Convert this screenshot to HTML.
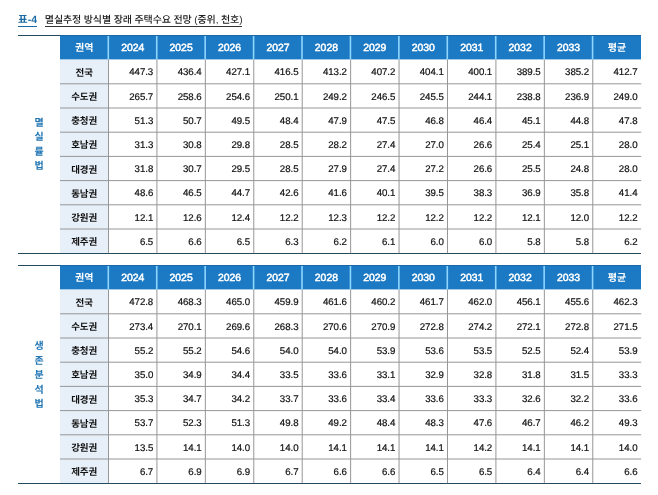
<!DOCTYPE html>
<html lang="ko"><head><meta charset="utf-8"><title>표-4</title><style>
html,body{margin:0;padding:0;background:#fff;}
body{width:658px;height:495px;position:relative;overflow:hidden;
 font-family:"Liberation Sans","Noto Sans CJK KR","NanumGothic",sans-serif;color:#222;text-rendering:geometricPrecision;}
.a{position:absolute;}
.title{left:18px;top:12px;height:16px;line-height:16px;font-size:10px;white-space:nowrap;}
.title .no{color:#1b6aa5;font-weight:700;font-size:10.5px;letter-spacing:0.1px;border-bottom:1px solid #1b6aa5;padding-bottom:0px;}
.title .tx{color:#222;border-bottom:1px solid #333;margin-left:7.5px;font-weight:500;letter-spacing:-0.12px;}
.rule{height:1px;background:#244a60;}
.hd{background:#1c79c3;color:#fff;font-weight:700;font-size:9.5px;text-align:center;}
.hn{font-size:10.4px;font-weight:400;-webkit-text-stroke:0.5px #fff;letter-spacing:0;}
.hk{font-size:10px;}
.rg{background:#e7eff8;}
.c{font-size:9.7px;letter-spacing:-0.05px;-webkit-text-stroke:0.2px #111;text-align:right;white-space:nowrap;color:#111;}
.r{font-size:9.5px;text-align:center;white-space:nowrap;color:#111;font-weight:700;}
.side{color:#2477b5;font-size:10px;font-weight:700;text-align:center;width:14px;line-height:14.55px;}
</style></head><body>
<div class="a title"><span class="no">표-4</span><span class="tx">멸실추정 방식별 장래 주택수요 전망 (중위, 천호)</span></div>
<div class="a rule" style="left:18px;top:35px;width:623.2px"></div>
<div class="a hd" style="left:60px;top:35px;width:581.2px;height:24px;border-top:1px solid #1a68a8;box-sizing:border-box"></div>
<div class="a hd" style="left:60px;top:59px;width:581.2px;height:1px;opacity:0.4"></div>
<div class="a hd hk" style="left:60px;top:37px;width:48.5px;height:24px;line-height:24px;background:none">권역</div>
<div class="a hd hn" style="left:108.5px;top:37px;width:48.4273px;height:24px;line-height:24px;background:none">2024</div>
<div class="a hd hn" style="left:156.927px;top:37px;width:48.4273px;height:24px;line-height:24px;background:none">2025</div>
<div class="a hd hn" style="left:205.355px;top:37px;width:48.4273px;height:24px;line-height:24px;background:none">2026</div>
<div class="a hd hn" style="left:253.782px;top:37px;width:48.4273px;height:24px;line-height:24px;background:none">2027</div>
<div class="a hd hn" style="left:302.209px;top:37px;width:48.4273px;height:24px;line-height:24px;background:none">2028</div>
<div class="a hd hn" style="left:350.636px;top:37px;width:48.4273px;height:24px;line-height:24px;background:none">2029</div>
<div class="a hd hn" style="left:399.064px;top:37px;width:48.4273px;height:24px;line-height:24px;background:none">2030</div>
<div class="a hd hn" style="left:447.491px;top:37px;width:48.4273px;height:24px;line-height:24px;background:none">2031</div>
<div class="a hd hn" style="left:495.918px;top:37px;width:48.4273px;height:24px;line-height:24px;background:none">2032</div>
<div class="a hd hn" style="left:544.345px;top:37px;width:48.4273px;height:24px;line-height:24px;background:none">2033</div>
<div class="a hd hk" style="left:592.773px;top:37px;width:48.4273px;height:24px;line-height:24px;background:none">평균</div>
<div class="a rg" style="left:60px;top:59.6px;width:48.5px;height:193.6px"></div>
<div class="a r" style="left:60px;top:62px;width:48.5px;height:24px;line-height:24px">전국</div>
<div class="a c" style="left:108.5px;top:61px;width:44.7273px;height:24px;line-height:24px">447.3</div>
<div class="a c" style="left:156.927px;top:61px;width:44.7273px;height:24px;line-height:24px">436.4</div>
<div class="a c" style="left:205.355px;top:61px;width:44.7273px;height:24px;line-height:24px">427.1</div>
<div class="a c" style="left:253.782px;top:61px;width:44.7273px;height:24px;line-height:24px">416.5</div>
<div class="a c" style="left:302.209px;top:61px;width:44.7273px;height:24px;line-height:24px">413.2</div>
<div class="a c" style="left:350.636px;top:61px;width:44.7273px;height:24px;line-height:24px">407.2</div>
<div class="a c" style="left:399.064px;top:61px;width:44.7273px;height:24px;line-height:24px">404.1</div>
<div class="a c" style="left:447.491px;top:61px;width:44.7273px;height:24px;line-height:24px">400.1</div>
<div class="a c" style="left:495.918px;top:61px;width:44.7273px;height:24px;line-height:24px">389.5</div>
<div class="a c" style="left:544.345px;top:61px;width:44.7273px;height:24px;line-height:24px">385.2</div>
<div class="a c" style="left:592.773px;top:61px;width:44.7273px;height:24px;line-height:24px">412.7</div>
<div class="a r" style="left:60px;top:86px;width:48.5px;height:24px;line-height:24px">수도권</div>
<div class="a c" style="left:108.5px;top:86px;width:44.7273px;height:24px;line-height:24px">265.7</div>
<div class="a c" style="left:156.927px;top:86px;width:44.7273px;height:24px;line-height:24px">258.6</div>
<div class="a c" style="left:205.355px;top:86px;width:44.7273px;height:24px;line-height:24px">254.6</div>
<div class="a c" style="left:253.782px;top:86px;width:44.7273px;height:24px;line-height:24px">250.1</div>
<div class="a c" style="left:302.209px;top:86px;width:44.7273px;height:24px;line-height:24px">249.2</div>
<div class="a c" style="left:350.636px;top:86px;width:44.7273px;height:24px;line-height:24px">246.5</div>
<div class="a c" style="left:399.064px;top:86px;width:44.7273px;height:24px;line-height:24px">245.5</div>
<div class="a c" style="left:447.491px;top:86px;width:44.7273px;height:24px;line-height:24px">244.1</div>
<div class="a c" style="left:495.918px;top:86px;width:44.7273px;height:24px;line-height:24px">238.8</div>
<div class="a c" style="left:544.345px;top:86px;width:44.7273px;height:24px;line-height:24px">236.9</div>
<div class="a c" style="left:592.773px;top:86px;width:44.7273px;height:24px;line-height:24px">249.0</div>
<div class="a r" style="left:60px;top:110px;width:48.5px;height:24px;line-height:24px">충청권</div>
<div class="a c" style="left:108.5px;top:110px;width:44.7273px;height:24px;line-height:24px">51.3</div>
<div class="a c" style="left:156.927px;top:110px;width:44.7273px;height:24px;line-height:24px">50.7</div>
<div class="a c" style="left:205.355px;top:110px;width:44.7273px;height:24px;line-height:24px">49.5</div>
<div class="a c" style="left:253.782px;top:110px;width:44.7273px;height:24px;line-height:24px">48.4</div>
<div class="a c" style="left:302.209px;top:110px;width:44.7273px;height:24px;line-height:24px">47.9</div>
<div class="a c" style="left:350.636px;top:110px;width:44.7273px;height:24px;line-height:24px">47.5</div>
<div class="a c" style="left:399.064px;top:110px;width:44.7273px;height:24px;line-height:24px">46.8</div>
<div class="a c" style="left:447.491px;top:110px;width:44.7273px;height:24px;line-height:24px">46.4</div>
<div class="a c" style="left:495.918px;top:110px;width:44.7273px;height:24px;line-height:24px">45.1</div>
<div class="a c" style="left:544.345px;top:110px;width:44.7273px;height:24px;line-height:24px">44.8</div>
<div class="a c" style="left:592.773px;top:110px;width:44.7273px;height:24px;line-height:24px">47.8</div>
<div class="a r" style="left:60px;top:134px;width:48.5px;height:24px;line-height:24px">호남권</div>
<div class="a c" style="left:108.5px;top:134px;width:44.7273px;height:24px;line-height:24px">31.3</div>
<div class="a c" style="left:156.927px;top:134px;width:44.7273px;height:24px;line-height:24px">30.8</div>
<div class="a c" style="left:205.355px;top:134px;width:44.7273px;height:24px;line-height:24px">29.8</div>
<div class="a c" style="left:253.782px;top:134px;width:44.7273px;height:24px;line-height:24px">28.5</div>
<div class="a c" style="left:302.209px;top:134px;width:44.7273px;height:24px;line-height:24px">28.2</div>
<div class="a c" style="left:350.636px;top:134px;width:44.7273px;height:24px;line-height:24px">27.4</div>
<div class="a c" style="left:399.064px;top:134px;width:44.7273px;height:24px;line-height:24px">27.0</div>
<div class="a c" style="left:447.491px;top:134px;width:44.7273px;height:24px;line-height:24px">26.6</div>
<div class="a c" style="left:495.918px;top:134px;width:44.7273px;height:24px;line-height:24px">25.4</div>
<div class="a c" style="left:544.345px;top:134px;width:44.7273px;height:24px;line-height:24px">25.1</div>
<div class="a c" style="left:592.773px;top:134px;width:44.7273px;height:24px;line-height:24px">28.0</div>
<div class="a r" style="left:60px;top:159px;width:48.5px;height:24px;line-height:24px">대경권</div>
<div class="a c" style="left:108.5px;top:158px;width:44.7273px;height:24px;line-height:24px">31.8</div>
<div class="a c" style="left:156.927px;top:158px;width:44.7273px;height:24px;line-height:24px">30.7</div>
<div class="a c" style="left:205.355px;top:158px;width:44.7273px;height:24px;line-height:24px">29.5</div>
<div class="a c" style="left:253.782px;top:158px;width:44.7273px;height:24px;line-height:24px">28.5</div>
<div class="a c" style="left:302.209px;top:158px;width:44.7273px;height:24px;line-height:24px">27.9</div>
<div class="a c" style="left:350.636px;top:158px;width:44.7273px;height:24px;line-height:24px">27.4</div>
<div class="a c" style="left:399.064px;top:158px;width:44.7273px;height:24px;line-height:24px">27.2</div>
<div class="a c" style="left:447.491px;top:158px;width:44.7273px;height:24px;line-height:24px">26.6</div>
<div class="a c" style="left:495.918px;top:158px;width:44.7273px;height:24px;line-height:24px">25.5</div>
<div class="a c" style="left:544.345px;top:158px;width:44.7273px;height:24px;line-height:24px">24.8</div>
<div class="a c" style="left:592.773px;top:158px;width:44.7273px;height:24px;line-height:24px">28.0</div>
<div class="a r" style="left:60px;top:183px;width:48.5px;height:24px;line-height:24px">동남권</div>
<div class="a c" style="left:108.5px;top:182px;width:44.7273px;height:24px;line-height:24px">48.6</div>
<div class="a c" style="left:156.927px;top:182px;width:44.7273px;height:24px;line-height:24px">46.5</div>
<div class="a c" style="left:205.355px;top:182px;width:44.7273px;height:24px;line-height:24px">44.7</div>
<div class="a c" style="left:253.782px;top:182px;width:44.7273px;height:24px;line-height:24px">42.6</div>
<div class="a c" style="left:302.209px;top:182px;width:44.7273px;height:24px;line-height:24px">41.6</div>
<div class="a c" style="left:350.636px;top:182px;width:44.7273px;height:24px;line-height:24px">40.1</div>
<div class="a c" style="left:399.064px;top:182px;width:44.7273px;height:24px;line-height:24px">39.5</div>
<div class="a c" style="left:447.491px;top:182px;width:44.7273px;height:24px;line-height:24px">38.3</div>
<div class="a c" style="left:495.918px;top:182px;width:44.7273px;height:24px;line-height:24px">36.9</div>
<div class="a c" style="left:544.345px;top:182px;width:44.7273px;height:24px;line-height:24px">35.8</div>
<div class="a c" style="left:592.773px;top:182px;width:44.7273px;height:24px;line-height:24px">41.4</div>
<div class="a r" style="left:60px;top:207px;width:48.5px;height:24px;line-height:24px">강원권</div>
<div class="a c" style="left:108.5px;top:207px;width:44.7273px;height:24px;line-height:24px">12.1</div>
<div class="a c" style="left:156.927px;top:207px;width:44.7273px;height:24px;line-height:24px">12.6</div>
<div class="a c" style="left:205.355px;top:207px;width:44.7273px;height:24px;line-height:24px">12.4</div>
<div class="a c" style="left:253.782px;top:207px;width:44.7273px;height:24px;line-height:24px">12.2</div>
<div class="a c" style="left:302.209px;top:207px;width:44.7273px;height:24px;line-height:24px">12.3</div>
<div class="a c" style="left:350.636px;top:207px;width:44.7273px;height:24px;line-height:24px">12.2</div>
<div class="a c" style="left:399.064px;top:207px;width:44.7273px;height:24px;line-height:24px">12.2</div>
<div class="a c" style="left:447.491px;top:207px;width:44.7273px;height:24px;line-height:24px">12.2</div>
<div class="a c" style="left:495.918px;top:207px;width:44.7273px;height:24px;line-height:24px">12.1</div>
<div class="a c" style="left:544.345px;top:207px;width:44.7273px;height:24px;line-height:24px">12.0</div>
<div class="a c" style="left:592.773px;top:207px;width:44.7273px;height:24px;line-height:24px">12.2</div>
<div class="a r" style="left:60px;top:231px;width:48.5px;height:24px;line-height:24px">제주권</div>
<div class="a c" style="left:108.5px;top:231px;width:44.7273px;height:24px;line-height:24px">6.5</div>
<div class="a c" style="left:156.927px;top:231px;width:44.7273px;height:24px;line-height:24px">6.6</div>
<div class="a c" style="left:205.355px;top:231px;width:44.7273px;height:24px;line-height:24px">6.5</div>
<div class="a c" style="left:253.782px;top:231px;width:44.7273px;height:24px;line-height:24px">6.3</div>
<div class="a c" style="left:302.209px;top:231px;width:44.7273px;height:24px;line-height:24px">6.2</div>
<div class="a c" style="left:350.636px;top:231px;width:44.7273px;height:24px;line-height:24px">6.1</div>
<div class="a c" style="left:399.064px;top:231px;width:44.7273px;height:24px;line-height:24px">6.0</div>
<div class="a c" style="left:447.491px;top:231px;width:44.7273px;height:24px;line-height:24px">6.0</div>
<div class="a c" style="left:495.918px;top:231px;width:44.7273px;height:24px;line-height:24px">5.8</div>
<div class="a c" style="left:544.345px;top:231px;width:44.7273px;height:24px;line-height:24px">5.8</div>
<div class="a c" style="left:592.773px;top:231px;width:44.7273px;height:24px;line-height:24px">6.2</div>
<div class="a rule" style="left:18px;top:252.7px;width:623.2px"></div>
<div class="a side" style="left:32px;top:116.6px">멸<br>실<br>률<br>법</div>
<div class="a rule" style="left:18px;top:265px;width:623.2px"></div>
<div class="a hd" style="left:60px;top:265px;width:581.2px;height:24px;border-top:1px solid #1a68a8;box-sizing:border-box"></div>
<div class="a hd" style="left:60px;top:289px;width:581.2px;height:1px;opacity:0.4"></div>
<div class="a hd hk" style="left:60px;top:267px;width:48.5px;height:24px;line-height:24px;background:none">권역</div>
<div class="a hd hn" style="left:108.5px;top:267px;width:48.4273px;height:24px;line-height:24px;background:none">2024</div>
<div class="a hd hn" style="left:156.927px;top:267px;width:48.4273px;height:24px;line-height:24px;background:none">2025</div>
<div class="a hd hn" style="left:205.355px;top:267px;width:48.4273px;height:24px;line-height:24px;background:none">2026</div>
<div class="a hd hn" style="left:253.782px;top:267px;width:48.4273px;height:24px;line-height:24px;background:none">2027</div>
<div class="a hd hn" style="left:302.209px;top:267px;width:48.4273px;height:24px;line-height:24px;background:none">2028</div>
<div class="a hd hn" style="left:350.636px;top:267px;width:48.4273px;height:24px;line-height:24px;background:none">2029</div>
<div class="a hd hn" style="left:399.064px;top:267px;width:48.4273px;height:24px;line-height:24px;background:none">2030</div>
<div class="a hd hn" style="left:447.491px;top:267px;width:48.4273px;height:24px;line-height:24px;background:none">2031</div>
<div class="a hd hn" style="left:495.918px;top:267px;width:48.4273px;height:24px;line-height:24px;background:none">2032</div>
<div class="a hd hn" style="left:544.345px;top:267px;width:48.4273px;height:24px;line-height:24px;background:none">2033</div>
<div class="a hd hk" style="left:592.773px;top:267px;width:48.4273px;height:24px;line-height:24px;background:none">평균</div>
<div class="a rg" style="left:60px;top:289.6px;width:48.5px;height:193.6px"></div>
<div class="a r" style="left:60px;top:292px;width:48.5px;height:24px;line-height:24px">전국</div>
<div class="a c" style="left:108.5px;top:291px;width:44.7273px;height:24px;line-height:24px">472.8</div>
<div class="a c" style="left:156.927px;top:291px;width:44.7273px;height:24px;line-height:24px">468.3</div>
<div class="a c" style="left:205.355px;top:291px;width:44.7273px;height:24px;line-height:24px">465.0</div>
<div class="a c" style="left:253.782px;top:291px;width:44.7273px;height:24px;line-height:24px">459.9</div>
<div class="a c" style="left:302.209px;top:291px;width:44.7273px;height:24px;line-height:24px">461.6</div>
<div class="a c" style="left:350.636px;top:291px;width:44.7273px;height:24px;line-height:24px">460.2</div>
<div class="a c" style="left:399.064px;top:291px;width:44.7273px;height:24px;line-height:24px">461.7</div>
<div class="a c" style="left:447.491px;top:291px;width:44.7273px;height:24px;line-height:24px">462.0</div>
<div class="a c" style="left:495.918px;top:291px;width:44.7273px;height:24px;line-height:24px">456.1</div>
<div class="a c" style="left:544.345px;top:291px;width:44.7273px;height:24px;line-height:24px">455.6</div>
<div class="a c" style="left:592.773px;top:291px;width:44.7273px;height:24px;line-height:24px">462.3</div>
<div class="a r" style="left:60px;top:316px;width:48.5px;height:24px;line-height:24px">수도권</div>
<div class="a c" style="left:108.5px;top:316px;width:44.7273px;height:24px;line-height:24px">273.4</div>
<div class="a c" style="left:156.927px;top:316px;width:44.7273px;height:24px;line-height:24px">270.1</div>
<div class="a c" style="left:205.355px;top:316px;width:44.7273px;height:24px;line-height:24px">269.6</div>
<div class="a c" style="left:253.782px;top:316px;width:44.7273px;height:24px;line-height:24px">268.3</div>
<div class="a c" style="left:302.209px;top:316px;width:44.7273px;height:24px;line-height:24px">270.6</div>
<div class="a c" style="left:350.636px;top:316px;width:44.7273px;height:24px;line-height:24px">270.9</div>
<div class="a c" style="left:399.064px;top:316px;width:44.7273px;height:24px;line-height:24px">272.8</div>
<div class="a c" style="left:447.491px;top:316px;width:44.7273px;height:24px;line-height:24px">274.2</div>
<div class="a c" style="left:495.918px;top:316px;width:44.7273px;height:24px;line-height:24px">272.1</div>
<div class="a c" style="left:544.345px;top:316px;width:44.7273px;height:24px;line-height:24px">272.8</div>
<div class="a c" style="left:592.773px;top:316px;width:44.7273px;height:24px;line-height:24px">271.5</div>
<div class="a r" style="left:60px;top:340px;width:48.5px;height:24px;line-height:24px">충청권</div>
<div class="a c" style="left:108.5px;top:340px;width:44.7273px;height:24px;line-height:24px">55.2</div>
<div class="a c" style="left:156.927px;top:340px;width:44.7273px;height:24px;line-height:24px">55.2</div>
<div class="a c" style="left:205.355px;top:340px;width:44.7273px;height:24px;line-height:24px">54.6</div>
<div class="a c" style="left:253.782px;top:340px;width:44.7273px;height:24px;line-height:24px">54.0</div>
<div class="a c" style="left:302.209px;top:340px;width:44.7273px;height:24px;line-height:24px">54.0</div>
<div class="a c" style="left:350.636px;top:340px;width:44.7273px;height:24px;line-height:24px">53.9</div>
<div class="a c" style="left:399.064px;top:340px;width:44.7273px;height:24px;line-height:24px">53.6</div>
<div class="a c" style="left:447.491px;top:340px;width:44.7273px;height:24px;line-height:24px">53.5</div>
<div class="a c" style="left:495.918px;top:340px;width:44.7273px;height:24px;line-height:24px">52.5</div>
<div class="a c" style="left:544.345px;top:340px;width:44.7273px;height:24px;line-height:24px">52.4</div>
<div class="a c" style="left:592.773px;top:340px;width:44.7273px;height:24px;line-height:24px">53.9</div>
<div class="a r" style="left:60px;top:364px;width:48.5px;height:24px;line-height:24px">호남권</div>
<div class="a c" style="left:108.5px;top:364px;width:44.7273px;height:24px;line-height:24px">35.0</div>
<div class="a c" style="left:156.927px;top:364px;width:44.7273px;height:24px;line-height:24px">34.9</div>
<div class="a c" style="left:205.355px;top:364px;width:44.7273px;height:24px;line-height:24px">34.4</div>
<div class="a c" style="left:253.782px;top:364px;width:44.7273px;height:24px;line-height:24px">33.5</div>
<div class="a c" style="left:302.209px;top:364px;width:44.7273px;height:24px;line-height:24px">33.6</div>
<div class="a c" style="left:350.636px;top:364px;width:44.7273px;height:24px;line-height:24px">33.1</div>
<div class="a c" style="left:399.064px;top:364px;width:44.7273px;height:24px;line-height:24px">32.9</div>
<div class="a c" style="left:447.491px;top:364px;width:44.7273px;height:24px;line-height:24px">32.8</div>
<div class="a c" style="left:495.918px;top:364px;width:44.7273px;height:24px;line-height:24px">31.8</div>
<div class="a c" style="left:544.345px;top:364px;width:44.7273px;height:24px;line-height:24px">31.5</div>
<div class="a c" style="left:592.773px;top:364px;width:44.7273px;height:24px;line-height:24px">33.3</div>
<div class="a r" style="left:60px;top:389px;width:48.5px;height:24px;line-height:24px">대경권</div>
<div class="a c" style="left:108.5px;top:388px;width:44.7273px;height:24px;line-height:24px">35.3</div>
<div class="a c" style="left:156.927px;top:388px;width:44.7273px;height:24px;line-height:24px">34.7</div>
<div class="a c" style="left:205.355px;top:388px;width:44.7273px;height:24px;line-height:24px">34.2</div>
<div class="a c" style="left:253.782px;top:388px;width:44.7273px;height:24px;line-height:24px">33.7</div>
<div class="a c" style="left:302.209px;top:388px;width:44.7273px;height:24px;line-height:24px">33.6</div>
<div class="a c" style="left:350.636px;top:388px;width:44.7273px;height:24px;line-height:24px">33.4</div>
<div class="a c" style="left:399.064px;top:388px;width:44.7273px;height:24px;line-height:24px">33.6</div>
<div class="a c" style="left:447.491px;top:388px;width:44.7273px;height:24px;line-height:24px">33.3</div>
<div class="a c" style="left:495.918px;top:388px;width:44.7273px;height:24px;line-height:24px">32.6</div>
<div class="a c" style="left:544.345px;top:388px;width:44.7273px;height:24px;line-height:24px">32.2</div>
<div class="a c" style="left:592.773px;top:388px;width:44.7273px;height:24px;line-height:24px">33.6</div>
<div class="a r" style="left:60px;top:413px;width:48.5px;height:24px;line-height:24px">동남권</div>
<div class="a c" style="left:108.5px;top:412px;width:44.7273px;height:24px;line-height:24px">53.7</div>
<div class="a c" style="left:156.927px;top:412px;width:44.7273px;height:24px;line-height:24px">52.3</div>
<div class="a c" style="left:205.355px;top:412px;width:44.7273px;height:24px;line-height:24px">51.3</div>
<div class="a c" style="left:253.782px;top:412px;width:44.7273px;height:24px;line-height:24px">49.8</div>
<div class="a c" style="left:302.209px;top:412px;width:44.7273px;height:24px;line-height:24px">49.2</div>
<div class="a c" style="left:350.636px;top:412px;width:44.7273px;height:24px;line-height:24px">48.4</div>
<div class="a c" style="left:399.064px;top:412px;width:44.7273px;height:24px;line-height:24px">48.3</div>
<div class="a c" style="left:447.491px;top:412px;width:44.7273px;height:24px;line-height:24px">47.6</div>
<div class="a c" style="left:495.918px;top:412px;width:44.7273px;height:24px;line-height:24px">46.7</div>
<div class="a c" style="left:544.345px;top:412px;width:44.7273px;height:24px;line-height:24px">46.2</div>
<div class="a c" style="left:592.773px;top:412px;width:44.7273px;height:24px;line-height:24px">49.3</div>
<div class="a r" style="left:60px;top:437px;width:48.5px;height:24px;line-height:24px">강원권</div>
<div class="a c" style="left:108.5px;top:437px;width:44.7273px;height:24px;line-height:24px">13.5</div>
<div class="a c" style="left:156.927px;top:437px;width:44.7273px;height:24px;line-height:24px">14.1</div>
<div class="a c" style="left:205.355px;top:437px;width:44.7273px;height:24px;line-height:24px">14.0</div>
<div class="a c" style="left:253.782px;top:437px;width:44.7273px;height:24px;line-height:24px">14.0</div>
<div class="a c" style="left:302.209px;top:437px;width:44.7273px;height:24px;line-height:24px">14.1</div>
<div class="a c" style="left:350.636px;top:437px;width:44.7273px;height:24px;line-height:24px">14.1</div>
<div class="a c" style="left:399.064px;top:437px;width:44.7273px;height:24px;line-height:24px">14.1</div>
<div class="a c" style="left:447.491px;top:437px;width:44.7273px;height:24px;line-height:24px">14.2</div>
<div class="a c" style="left:495.918px;top:437px;width:44.7273px;height:24px;line-height:24px">14.1</div>
<div class="a c" style="left:544.345px;top:437px;width:44.7273px;height:24px;line-height:24px">14.1</div>
<div class="a c" style="left:592.773px;top:437px;width:44.7273px;height:24px;line-height:24px">14.0</div>
<div class="a r" style="left:60px;top:461px;width:48.5px;height:24px;line-height:24px">제주권</div>
<div class="a c" style="left:108.5px;top:461px;width:44.7273px;height:24px;line-height:24px">6.7</div>
<div class="a c" style="left:156.927px;top:461px;width:44.7273px;height:24px;line-height:24px">6.9</div>
<div class="a c" style="left:205.355px;top:461px;width:44.7273px;height:24px;line-height:24px">6.9</div>
<div class="a c" style="left:253.782px;top:461px;width:44.7273px;height:24px;line-height:24px">6.7</div>
<div class="a c" style="left:302.209px;top:461px;width:44.7273px;height:24px;line-height:24px">6.6</div>
<div class="a c" style="left:350.636px;top:461px;width:44.7273px;height:24px;line-height:24px">6.6</div>
<div class="a c" style="left:399.064px;top:461px;width:44.7273px;height:24px;line-height:24px">6.5</div>
<div class="a c" style="left:447.491px;top:461px;width:44.7273px;height:24px;line-height:24px">6.5</div>
<div class="a c" style="left:495.918px;top:461px;width:44.7273px;height:24px;line-height:24px">6.4</div>
<div class="a c" style="left:544.345px;top:461px;width:44.7273px;height:24px;line-height:24px">6.4</div>
<div class="a c" style="left:592.773px;top:461px;width:44.7273px;height:24px;line-height:24px">6.6</div>
<div class="a rule" style="left:18px;top:482.7px;width:623.2px"></div>
<div class="a side" style="left:32px;top:340px">생<br>존<br>분<br>석<br>법</div>
<svg class="a" style="left:0;top:0" width="658" height="495" viewBox="0 0 658 495" fill="none" stroke="#969696" stroke-width="1"><line x1="60" y1="83.80" x2="641.2" y2="83.80"/><line x1="60" y1="108.00" x2="641.2" y2="108.00"/><line x1="60" y1="132.20" x2="641.2" y2="132.20"/><line x1="60" y1="156.40" x2="641.2" y2="156.40"/><line x1="60" y1="180.60" x2="641.2" y2="180.60"/><line x1="60" y1="204.80" x2="641.2" y2="204.80"/><line x1="60" y1="229.00" x2="641.2" y2="229.00"/><line x1="108.50" y1="59.60" x2="108.50" y2="253.20"/><line x1="156.93" y1="59.60" x2="156.93" y2="253.20"/><line x1="205.35" y1="59.60" x2="205.35" y2="253.20"/><line x1="253.78" y1="59.60" x2="253.78" y2="253.20"/><line x1="302.21" y1="59.60" x2="302.21" y2="253.20"/><line x1="350.64" y1="59.60" x2="350.64" y2="253.20"/><line x1="399.06" y1="59.60" x2="399.06" y2="253.20"/><line x1="447.49" y1="59.60" x2="447.49" y2="253.20"/><line x1="495.92" y1="59.60" x2="495.92" y2="253.20"/><line x1="544.35" y1="59.60" x2="544.35" y2="253.20"/><line x1="592.77" y1="59.60" x2="592.77" y2="253.20"/><line x1="60" y1="313.80" x2="641.2" y2="313.80"/><line x1="60" y1="338.00" x2="641.2" y2="338.00"/><line x1="60" y1="362.20" x2="641.2" y2="362.20"/><line x1="60" y1="386.40" x2="641.2" y2="386.40"/><line x1="60" y1="410.60" x2="641.2" y2="410.60"/><line x1="60" y1="434.80" x2="641.2" y2="434.80"/><line x1="60" y1="459.00" x2="641.2" y2="459.00"/><line x1="108.50" y1="289.60" x2="108.50" y2="483.20"/><line x1="156.93" y1="289.60" x2="156.93" y2="483.20"/><line x1="205.35" y1="289.60" x2="205.35" y2="483.20"/><line x1="253.78" y1="289.60" x2="253.78" y2="483.20"/><line x1="302.21" y1="289.60" x2="302.21" y2="483.20"/><line x1="350.64" y1="289.60" x2="350.64" y2="483.20"/><line x1="399.06" y1="289.60" x2="399.06" y2="483.20"/><line x1="447.49" y1="289.60" x2="447.49" y2="483.20"/><line x1="495.92" y1="289.60" x2="495.92" y2="483.20"/><line x1="544.35" y1="289.60" x2="544.35" y2="483.20"/><line x1="592.77" y1="289.60" x2="592.77" y2="483.20"/></svg>
<svg class="a" style="left:0;top:0" width="658" height="495" viewBox="0 0 658 495" fill="none" stroke="#8fd6ff" stroke-width="1.6"><line x1="108.30" y1="36.00" x2="108.30" y2="59.40"/><line x1="156.73" y1="36.00" x2="156.73" y2="59.40"/><line x1="205.15" y1="36.00" x2="205.15" y2="59.40"/><line x1="253.58" y1="36.00" x2="253.58" y2="59.40"/><line x1="302.01" y1="36.00" x2="302.01" y2="59.40"/><line x1="350.44" y1="36.00" x2="350.44" y2="59.40"/><line x1="398.86" y1="36.00" x2="398.86" y2="59.40"/><line x1="447.29" y1="36.00" x2="447.29" y2="59.40"/><line x1="495.72" y1="36.00" x2="495.72" y2="59.40"/><line x1="544.15" y1="36.00" x2="544.15" y2="59.40"/><line x1="592.57" y1="36.00" x2="592.57" y2="59.40"/><line x1="108.30" y1="266.00" x2="108.30" y2="289.40"/><line x1="156.73" y1="266.00" x2="156.73" y2="289.40"/><line x1="205.15" y1="266.00" x2="205.15" y2="289.40"/><line x1="253.58" y1="266.00" x2="253.58" y2="289.40"/><line x1="302.01" y1="266.00" x2="302.01" y2="289.40"/><line x1="350.44" y1="266.00" x2="350.44" y2="289.40"/><line x1="398.86" y1="266.00" x2="398.86" y2="289.40"/><line x1="447.29" y1="266.00" x2="447.29" y2="289.40"/><line x1="495.72" y1="266.00" x2="495.72" y2="289.40"/><line x1="544.15" y1="266.00" x2="544.15" y2="289.40"/><line x1="592.57" y1="266.00" x2="592.57" y2="289.40"/></svg>
</body></html>
